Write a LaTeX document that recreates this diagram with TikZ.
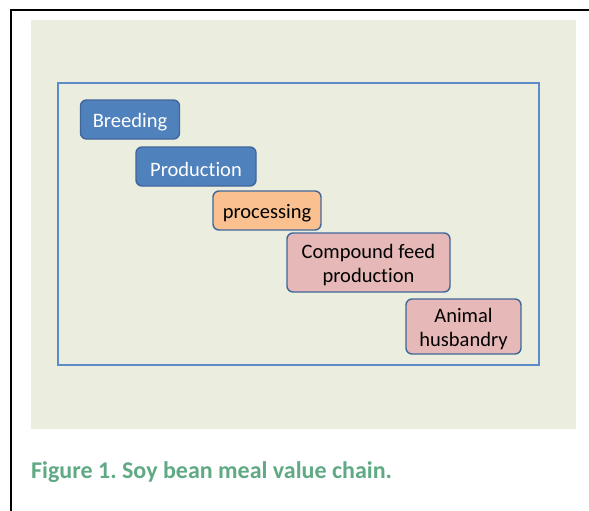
\documentclass[tikz,border=0pt]{standalone}
\usepackage{fontspec}
\setmainfont[Ligatures=NoCommon]{Carlito}
\usetikzlibrary{positioning}
\definecolor{panelgreen}{HTML}{EBEEDF}
\definecolor{frameblue}{HTML}{5B8BC9}
\definecolor{stageblue}{HTML}{4F81BD}
\definecolor{stageorange}{HTML}{FAC090}
\definecolor{stagepink}{HTML}{E6B9B8}
\definecolor{stageline}{HTML}{41669A}
\definecolor{captiongreen}{HTML}{5FA984}
\newcommand{\low}[1]{\raisebox{-2.5pt}[\height][\depth]{#1}}
\frenchspacing

\begin{document}
\begin{tikzpicture}[x=1pt, y=-1pt, align=center,
		stage/.style={draw=stageline, line width=1.4pt, rounded corners=6pt,
			inner sep=0pt, font=\fontsize{20.5}{24}\selectfont},
		bluestage/.style={stage, fill=stageblue, text=white},
		orangestage/.style={stage, fill=stageorange, text=black},
		pinkstage/.style={stage, fill=stagepink, text=black}
	]
		\useasboundingbox (0,0) rectangle (589,511);
		\draw[line width=2pt] (11,511) -- (11,10) -- (589,10);
		\fill[panelgreen] (31,20) rectangle (576,429);
		\draw[frameblue, line width=1.6pt] (58,83) rectangle (539,365);

		\node[bluestage, minimum width=99pt, minimum height=39pt] (breeding) at (130,119.5) {\low{Breeding}};
		\node[bluestage, minimum width=120pt, minimum height=39pt] (production) at (196,166.5) {\low{Production}};
		\node[orangestage, minimum width=108pt, minimum height=39pt] (processing) at (267,210.5) {\low{processing}};
		\node[pinkstage, minimum width=163pt, minimum height=59pt] (feed) at (368.5,262.5) {\low{Compound feed}\\\low{production}};
		\node[pinkstage, minimum width=115pt, minimum height=55pt] (husbandry) at (463.5,326.5) {\low{Animal}\\\low{husbandry}};

		\node[anchor=base west, inner sep=0pt, text=captiongreen,
			font=\fontsize{24}{28}\selectfont\bfseries] (caption) at (31,478) {Figure 1. Soy bean meal value chain.};
	\end{tikzpicture}
\end{document}
